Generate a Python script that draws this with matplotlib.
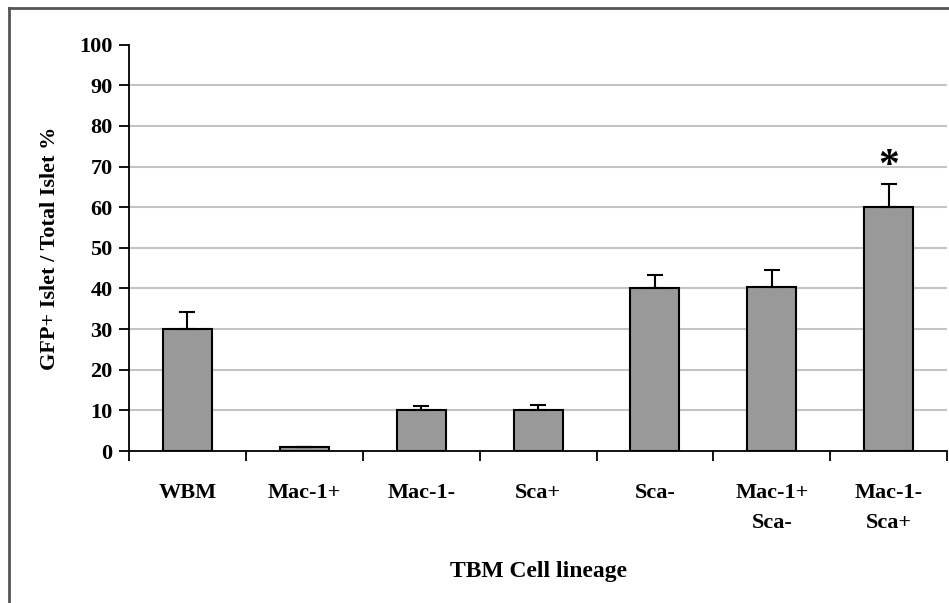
import numpy as np
import matplotlib
matplotlib.use("Agg")
import matplotlib.pyplot as plt
from matplotlib.lines import Line2D

# -----------------------------
# Data
# -----------------------------
categories = ["WBM", "Mac-1+", "Mac-1-", "Sca+", "Sca-", "Mac-1+\nSca-", "Mac-1-\nSca+"]
values = [30, 1, 10, 10, 40, 40.3, 60]
errors = [4.2, 0, 1.0, 1.4, 3.4, 4.3, 5.7]
sig_marks = ["", "", "", "", "", "", "*"]

# -----------------------------
# Figure
# -----------------------------
plt.rcParams["font.family"] = ["Liberation Serif", "DejaVu Serif"]
plt.rcParams["font.weight"] = "bold"

fig = plt.figure(figsize=(9.49, 6.03), dpi=100)
ax = fig.add_axes([0.136, 0.252, 0.862, 0.674])

x = np.arange(len(categories))
ax.bar(x, values, width=0.42, color="#999999", edgecolor="black", linewidth=1.5, zorder=3)
ax.errorbar(x, values, yerr=[np.zeros(len(errors)), errors], fmt="none",
            ecolor="black", elinewidth=1.5, capsize=5.5, capthick=1.5, zorder=4)

for xi, v, e, m in zip(x, values, errors, sig_marks):
    if m:
        ax.text(xi, v + e + 4.2, m, ha="center", va="center", fontsize=30, fontweight="bold")

ax.set_xlim(-0.5, len(categories) - 0.5)
ax.set_ylim(0, 100)
ax.set_yticks(range(0, 101, 10))
ax.tick_params(axis="y", labelsize=16, length=7, width=1.3, direction="out", pad=5)

# ticks between categories on x
ax.set_xticks(np.arange(len(categories) + 1) - 0.5)
ax.set_xticklabels([])
ax.tick_params(axis="x", length=7, width=1.3, direction="out")
ax.set_xticks(x, minor=True)
ax.set_xticklabels(categories, minor=True, fontsize=16, linespacing=1.7, va="top")
ax.tick_params(axis="x", which="minor", length=0, pad=23)

for yv in range(10, 100, 10):
    ax.axhline(yv, color="#c4c4c4", linewidth=1.5, zorder=1)

for side in ["top", "right"]:
    ax.spines[side].set_visible(False)
ax.spines["left"].set_linewidth(1.3)
ax.spines["bottom"].set_linewidth(1.3)

ax.set_ylabel("GFP+ Islet / Total Islet %", fontsize=16, fontweight="bold", labelpad=14)
ax.set_xlabel("TBM Cell lineage", fontsize=17, fontweight="bold", labelpad=20)

# outer frame (left and top edges)
fig.add_artist(Line2D([0.009, 0.009], [0.0, 0.987], transform=fig.transFigure, color="#555555", linewidth=2))
fig.add_artist(Line2D([0.009, 1.0], [0.987, 0.987], transform=fig.transFigure, color="#555555", linewidth=2))

fig.savefig("out.png", dpi=100)
